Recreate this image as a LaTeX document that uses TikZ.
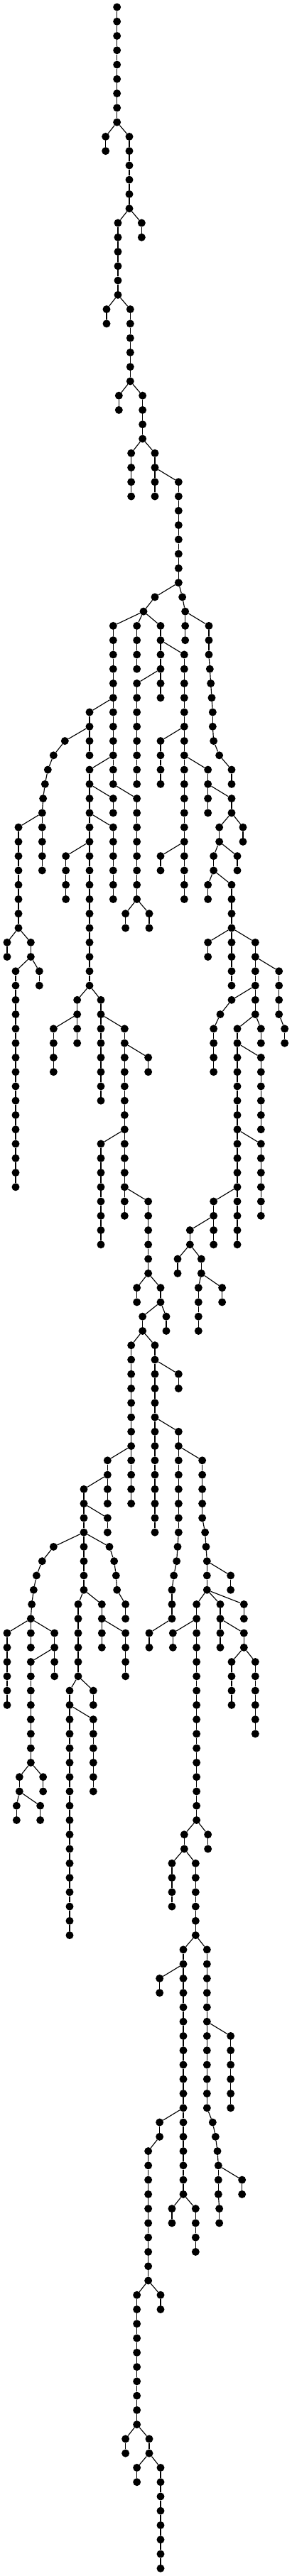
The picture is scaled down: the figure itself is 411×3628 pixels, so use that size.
\documentclass[tikz,border=0pt]{standalone}
\tikzset{
  dot/.style={circle,fill=black,inner sep=0pt,minimum size=11pt},
  edge/.style={draw=black,line width=1.15pt}
}
% a column of nodes at x (in thirds of a pixel), from level #2 to level #3
\newcommand\Col[3]{%
  \foreach \lv in {#2,...,#3}{%
    \node[dot] (n\lv-#1) at ({#1/3},{10+20.2655*\lv}) {};
  }%
  \foreach \lv in {#2,...,#3}{%
    \ifnum\lv<#3\relax
      \pgfmathtruncatemacro\nx{\lv+1}%
      \draw[edge] (n\lv-#1) -- (n\nx-#1);
    \fi
  }%
}
% branches from (x #1, level #2) to the next level at the x values #3
\newcommand\Br[3]{%
  \pgfmathtruncatemacro\nx{#2+1}%
  \foreach \kid in {#3}{\draw[edge] (n#2-#1) -- (n\nx-\kid);}%
}
\begin{document}
\begin{tikzpicture}[x=1pt,y=-1pt]
\useasboundingbox (0,0) rectangle (411,3628);
\Col{494}{0}{8}\Col{446}{9}{10}\Col{546}{9}{14}\Col{498}{15}{20}\Col{598}{15}{16}
\Col{450}{21}{22}\Col{550}{21}{26}\Col{502}{27}{28}\Col{602}{27}{30}\Col{554}{31}{34}
\Col{654}{31}{34}\Col{754}{33}{40}\Col{654}{41}{41}\Col{770}{41}{41}\Col{606}{42}{42}
\Col{782}{42}{44}\Col{478}{43}{54}\Col{578}{43}{46}\Col{678}{43}{48}\Col{882}{43}{45}
\Col{778}{45}{62}\Col{578}{47}{54}\Col{378}{49}{52}\Col{678}{51}{54}\Col{274}{51}{51}
\Col{226}{52}{52}\Col{202}{53}{53}\Col{190}{54}{54}\Col{182}{55}{55}\Col{178}{56}{60}
\Col{378}{53}{68}\Col{478}{55}{56}\Col{478}{57}{62}\Col{578}{55}{62}\Col{78}{57}{64}
\Col{278}{59}{62}\Col{678}{59}{60}\Col{878}{53}{56}\Col{886}{46}{46}\Col{890}{47}{47}
\Col{894}{48}{48}\Col{898}{49}{50}\Col{902}{51}{51}\Col{926}{52}{52}\Col{978}{53}{54}
\Col{978}{55}{56}\Col{926}{57}{58}\Col{1026}{57}{58}\Col{902}{59}{60}\Col{1002}{59}{60}
\Col{878}{61}{62}\Col{978}{61}{64}\Col{530}{63}{64}\Col{630}{63}{64}\Col{30}{65}{66}
\Col{130}{65}{66}\Col{66}{67}{82}\Col{166}{67}{68}\Col{326}{69}{72}\Col{426}{69}{76}
\Col{226}{71}{74}\Col{526}{71}{84}\Col{626}{73}{74}\Col{426}{79}{86}\Col{626}{83}{88}
\Col{878}{65}{66}\Col{978}{65}{68}\Col{1078}{65}{70}\Col{1178}{67}{70}\Col{978}{69}{69}
\Col{930}{70}{70}\Col{902}{71}{74}\Col{1002}{71}{86}\Col{1102}{71}{72}\Col{1102}{73}{78}
\Col{1202}{71}{72}\Col{1102}{79}{84}\Col{902}{83}{86}\Col{802}{85}{86}\Col{750}{87}{88}
\Col{850}{87}{88}\Col{578}{89}{90}\Col{678}{89}{90}\Col{838}{89}{92}\Col{938}{89}{90}
\Col{602}{91}{92}\Col{702}{91}{92}\Col{554}{93}{104}\Col{654}{93}{106}\Col{754}{95}{96}
\Col{754}{99}{106}\Col{854}{101}{105}\Col{454}{101}{104}\Col{354}{103}{110}\Col{454}{105}{106}
\Col{750}{107}{107}\Col{746}{108}{108}\Col{734}{109}{109}\Col{726}{110}{112}\Col{866}{106}{106}
\Col{870}{107}{107}\Col{874}{108}{110}\Col{974}{109}{110}\Col{830}{111}{126}\Col{930}{111}{114}
\Col{1030}{111}{112}\Col{1030}{113}{114}\Col{978}{115}{118}\Col{1078}{115}{120}\Col{630}{113}{114}
\Col{730}{113}{114}\Col{226}{107}{107}\Col{178}{108}{108}\Col{154}{109}{109}\Col{142}{110}{110}
\Col{134}{111}{111}\Col{130}{112}{112}\Col{462}{107}{107}\Col{482}{108}{108}\Col{490}{109}{109}
\Col{494}{110}{110}\Col{530}{111}{112}\Col{330}{111}{116}\Col{430}{111}{114}\Col{530}{113}{116}
\Col{30}{113}{118}\Col{130}{113}{114}\Col{230}{113}{116}\Col{130}{115}{122}\Col{82}{123}{124}
\Col{182}{123}{124}\Col{70}{125}{126}\Col{170}{125}{126}\Col{294}{117}{134}\Col{394}{117}{118}
\Col{394}{119}{124}\Col{778}{127}{128}\Col{878}{127}{128}\Col{726}{129}{132}\Col{826}{129}{134}
\Col{774}{135}{152}\Col{874}{135}{146}\Col{674}{137}{138}\Col{974}{141}{146}\Col{674}{147}{148}
\Col{898}{147}{147}\Col{910}{148}{148}\Col{918}{149}{149}\Col{922}{150}{152}\Col{926}{153}{154}
\Col{1022}{151}{152}\Col{626}{149}{158}\Col{726}{153}{154}\Col{826}{153}{156}\Col{578}{159}{168}
\Col{678}{159}{160}\Col{530}{169}{170}\Col{630}{169}{170}\Col{578}{171}{172}\Col{678}{171}{178}
\Br{494}{8}{446,546}\Br{546}{14}{498,598}\Br{498}{20}{450,550}\Br{550}{26}{502,602}
\Br{602}{30}{554,654}\Br{654}{32}{754}\Br{754}{40}{654,770}\Br{654}{41}{606}
\Br{606}{42}{478,578,678}\Br{770}{41}{782}\Br{782}{42}{882}\Br{678}{44}{778}\Br{678}{46}{578}
\Br{478}{48}{378}\Br{778}{50}{678}\Br{478}{52}{378}\Br{778}{52}{878}\Br{478}{54}{578}
\Br{378}{50}{274}\Br{274}{51}{226}\Br{226}{52}{202}\Br{202}{53}{190}\Br{190}{54}{182}
\Br{182}{55}{178}\Br{178}{56}{78}\Br{378}{54}{478}\Br{378}{56}{478}\Br{378}{58}{278}
\Br{778}{58}{678}\Br{882}{45}{886}\Br{886}{46}{890}\Br{890}{47}{894}\Br{894}{48}{898}
\Br{898}{50}{902}\Br{902}{51}{926}\Br{926}{52}{978}\Br{878}{54}{978}\Br{978}{56}{926,1026}
\Br{926}{58}{902,1002}\Br{902}{60}{878,978}\Br{578}{62}{530,630}\Br{978}{64}{878,978,1078}
\Br{78}{64}{30,130}\Br{130}{66}{66,166}\Br{378}{68}{326,426}\Br{326}{70}{226}\Br{426}{70}{526}
\Br{526}{72}{626}\Br{1078}{66}{1178}\Br{1078}{68}{978}\Br{978}{69}{930}\Br{930}{70}{902}
\Br{1078}{70}{1002,1102}\Br{1002}{72}{1102}\Br{1178}{70}{1202}\Br{526}{78}{426}\Br{526}{82}{626}
\Br{1002}{78}{1102}\Br{1002}{82}{902}\Br{902}{84}{802}\Br{802}{86}{750,850}\Br{850}{88}{838,938}
\Br{626}{88}{578,678}\Br{678}{90}{602,702}\Br{602}{92}{554,654}\Br{654}{94}{754}\Br{654}{98}{754}
\Br{754}{100}{854}\Br{554}{100}{454}\Br{454}{102}{354}\Br{354}{104}{454}\Br{354}{106}{226,462}
\Br{226}{107}{178}\Br{178}{108}{154}\Br{154}{109}{142}\Br{142}{110}{134}\Br{134}{111}{130}
\Br{462}{107}{482}\Br{482}{108}{490}\Br{490}{109}{494}\Br{494}{110}{530}\Br{354}{110}{330,430}
\Br{130}{112}{30,130,230}\Br{230}{114}{130}\Br{330}{116}{294,394}\Br{430}{112}{530}
\Br{754}{106}{750}\Br{750}{107}{746}\Br{746}{108}{734}\Br{734}{109}{726}\Br{726}{112}{630}
\Br{854}{105}{866}\Br{866}{106}{870}\Br{870}{107}{874}\Br{874}{108}{974}\Br{874}{110}{830,930,1030}
\Br{830}{112}{730}\Br{930}{112}{1030}\Br{1030}{114}{978,1078}\Br{130}{122}{82,182}\Br{82}{124}{70,170}
\Br{294}{118}{394}\Br{830}{126}{778,878}\Br{778}{128}{726,826}\Br{826}{134}{774,874}\Br{774}{136}{674}
\Br{774}{146}{674}\Br{874}{140}{974}\Br{874}{146}{898}\Br{898}{147}{910}\Br{910}{148}{918}
\Br{918}{149}{922}\Br{922}{150}{1022}\Br{674}{148}{626}\Br{626}{158}{578,678}\Br{774}{152}{726,826}
\Br{922}{152}{926}\Br{578}{168}{530,630}\Br{630}{170}{578,678}
\end{tikzpicture}
\end{document}
